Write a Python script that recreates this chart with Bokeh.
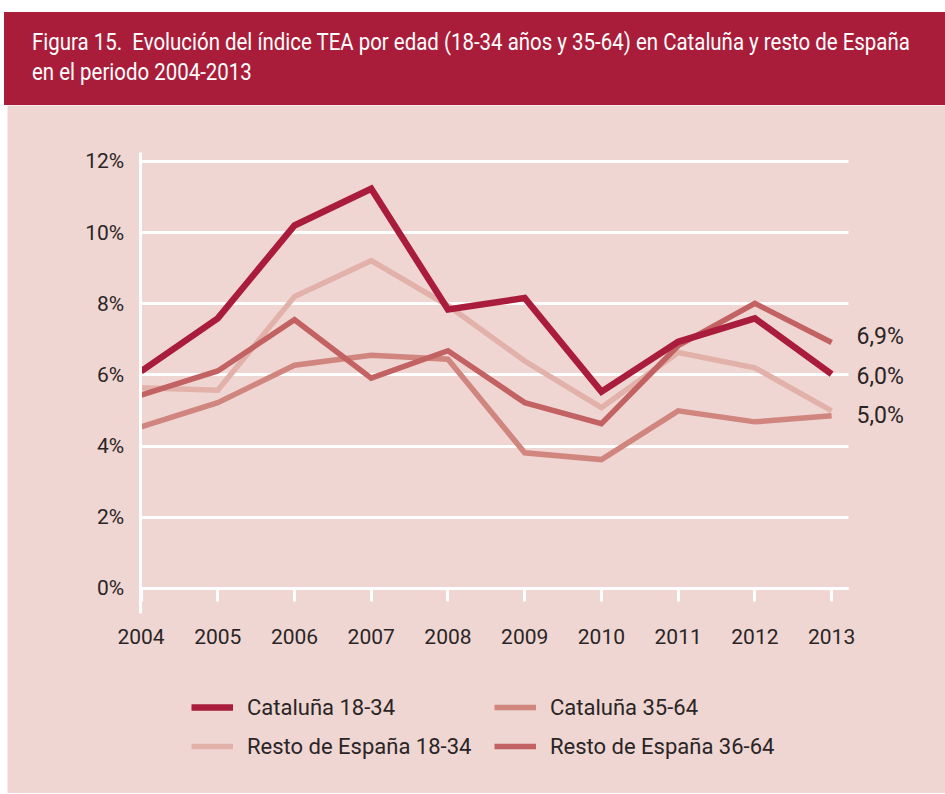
from bokeh.plotting import figure
from bokeh.models import Range1d, FixedTicker, Legend, LegendItem, LinearAxis, Div
from bokeh.layouts import column
from bokeh.embed import file_html
from bokeh.resources import INLINE

# ---------------- data ----------------
years = [2004, 2005, 2006, 2007, 2008, 2009, 2010, 2011, 2012, 2013]
cataluna_18_34 = [6.10, 7.59, 10.20, 11.23, 7.84, 8.16, 5.53, 6.93, 7.59, 6.02]
cataluna_35_64 = [4.54, 5.22, 6.27, 6.55, 6.44, 3.81, 3.62, 4.99, 4.68, 4.85]
resto_18_34 = [5.64, 5.57, 8.20, 9.21, 7.95, 6.39, 5.08, 6.63, 6.20, 4.99]
resto_36_64 = [5.43, 6.11, 7.55, 5.91, 6.68, 5.22, 4.63, 6.82, 8.01, 6.91]

series_names = ["Cataluña 18-34", "Cataluña 35-64", "Resto de España 18-34", "Resto de España 36-64"]
y_ticks = [0, 2, 4, 6, 8, 10, 12]
y_tick_labels = ["0%", "2%", "4%", "6%", "8%", "10%", "12%"]
end_labels = ["6,9%", "6,0%", "5,0%"]

title_line1 = "Figura 15.&nbsp; Evolución del índice TEA por edad (18-34 años y 35-64) en Cataluña y resto de España"
title_line2 = "en el periodo 2004-2013"

# ---------------- style ----------------
FONT = "Roboto"
DARK = "#A91C3B"
C_CAT_35 = "#D0857F"
C_RES_18 = "#E2B2AA"
C_RES_36 = "#C26262"
BG = "#EFD6D2"
TXT = "#2a2526"
FS = "21px"

X_LO, X_HI = 2003.99, 2013.22      # extent of the drawn axis / grid
Y_LO, Y_HI = -0.70, 12.25

header = Div(
    text=(
        '<div style="margin:12px 0 0 4px;width:941px;height:93px;background:#AA1D3A;color:#ffffff;'
        'font-family:Roboto,sans-serif;font-size:24px;line-height:30px;overflow:hidden;">'
        '<div style="padding:15px 0 0 28px;white-space:nowrap;transform:scaleX(0.852);transform-origin:28px 0;">'
        '%s<br>%s</div></div>' % (title_line1, title_line2)
    ),
    width=945, height=105, margin=0,
)

# the frame fills the whole panel; axes are fixed inside it and limited with bounds
p = figure(
    width=938, height=688, output_backend="svg", toolbar_location=None,
    x_range=Range1d(2002.26, 2014.484), y_range=Range1d(-5.765, 13.571),
    x_axis_location=None, y_axis_location=None,
    min_border_left=0, min_border_right=0, min_border_top=0, min_border_bottom=0,
    background_fill_color=BG, border_fill_color=BG, outline_line_color=None,
    margin=(0, 0, 0, 7),
)

# grid
p.xgrid.grid_line_color = None
p.ygrid.ticker = FixedTicker(ticks=y_ticks)
p.ygrid.cross_bounds = (X_LO, X_HI)
p.ygrid.grid_line_color = "white"
p.ygrid.grid_line_width = 3

def plain(ax):
    ax.major_tick_in = 0
    ax.minor_tick_out = 0
    ax.minor_tick_in = 0
    ax.major_label_text_font = FONT
    ax.major_label_text_color = TXT

# y axis (left) at 2004
ya = LinearAxis(fixed_location=X_LO, ticker=FixedTicker(ticks=y_ticks), bounds=(Y_LO, Y_HI))
plain(ya)
ya.major_label_overrides = {t: l for t, l in zip(y_ticks, y_tick_labels)}
ya.axis_line_color = "white"
ya.axis_line_width = 3
ya.major_tick_out = 0
ya.major_label_standoff = 16
ya.major_label_text_font_size = FS
p.add_layout(ya, "left")

# x axis at y = 0 with ticks hanging down
x0 = LinearAxis(fixed_location=0, ticker=FixedTicker(ticks=years), bounds=(X_LO, X_HI))
plain(x0)
x0.major_label_overrides = {y: str(y) for y in years}
x0.axis_line_color = "white"
x0.axis_line_width = 3
x0.major_tick_line_color = "white"
x0.major_tick_line_width = 3
x0.major_tick_out = 13
x0.major_label_standoff = 28
x0.major_label_text_font_size = FS
p.add_layout(x0, "below")

# lines (bottom to top)
r_res18 = p.line(years, resto_18_34, line_color=C_RES_18, line_width=5.5, line_join="miter")
r_cat35 = p.line(years, cataluna_35_64, line_color=C_CAT_35, line_width=5.5, line_join="miter")
r_res36 = p.line(years, resto_36_64, line_color=C_RES_36, line_width=5.5, line_join="miter")
r_cat18 = p.line(years, cataluna_18_34, line_color=DARK, line_width=6.5, line_join="miter")

# end-value labels on a right-hand axis at the end of the grid
label_pos = [round(resto_36_64[-1] + 0.17, 2), round(cataluna_18_34[-1] - 0.06, 2), round(resto_18_34[-1] - 0.13, 2)]
ra = LinearAxis(fixed_location=X_HI, ticker=FixedTicker(ticks=label_pos))
plain(ra)
ra.major_label_overrides = {v: t for v, t in zip(label_pos, end_labels)}
ra.axis_line_color = None
ra.major_tick_out = 0
ra.major_label_standoff = 8
ra.major_label_text_font_size = "23px"
p.add_layout(ra, "right")

legend = Legend(
    items=[LegendItem(label=series_names[0], renderers=[r_cat18]),
           LegendItem(label=series_names[1], renderers=[r_cat35]),
           LegendItem(label=series_names[2], renderers=[r_res18]),
           LegendItem(label=series_names[3], renderers=[r_res36])],
    orientation="horizontal", ncols=2, location=(184, 32),
    glyph_width=42, glyph_height=30, label_height=30, label_width=238, label_standoff=14,
    spacing=9, padding=0, margin=0, border_line_color=None, background_fill_alpha=0,
    label_text_font=FONT, label_text_font_size="22px", label_text_color=TXT,
)
p.add_layout(legend)

layout = column(header, p, spacing=0)
open("out.html", "w").write(file_html(layout, INLINE))
